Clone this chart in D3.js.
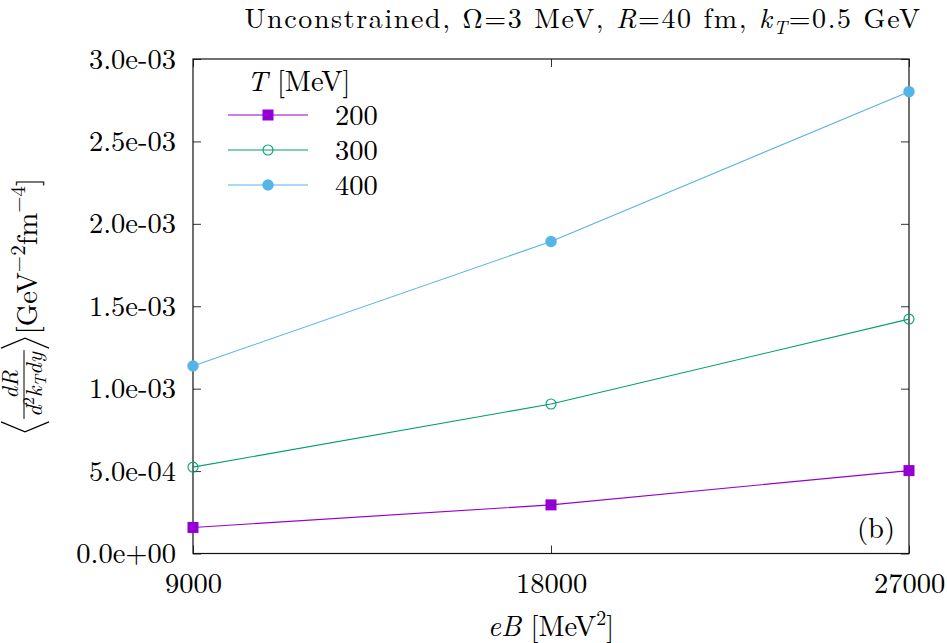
<!DOCTYPE html>
<html><head><meta charset="utf-8">
<script src="https://cdn.jsdelivr.net/npm/d3@7"></script>
<style>
html,body{margin:0;padding:0;background:#fff;}
text{font-family:"Latin Modern Roman","CMU Serif","Liberation Serif",serif;fill:#000;}
</style></head>
<body>
<svg id="chart" width="947" height="643"></svg>
<script>
// ---- data ----
const eB = [9000, 18000, 27000];
const temps = ["200", "300", "400"];
const rate200 = [1.58e-4, 2.95e-4, 5.03e-4];
const rate300 = [5.24e-4, 9.07e-4, 1.422e-3];
const rate400 = [1.138e-3, 1.893e-3, 2.802e-3];
const xTicks = [9000, 18000, 27000];
const xTickLabels = ["9000", "18000", "27000"];
const yTicks = [0, 5e-4, 1e-3, 1.5e-3, 2e-3, 2.5e-3, 3e-3];
const yTickLabels = ["0.0e+00", "5.0e-04", "1.0e-03", "1.5e-03", "2.0e-03", "2.5e-03", "3.0e-03"];
const colors = ["#9400d3", "#009e73", "#56b4e9"];
const markers = ["square", "openCircle", "circle"];

const series = temps.map((t, i) => ({
  name: t, color: colors[i], marker: markers[i],
  values: [rate200, rate300, rate400][i].map((v, j) => ({x: eB[j], y: v}))
}));

const FS = 28.5;
const svg = d3.select("#chart");
const L = 193, R = 909, T = 59, B = 553.5;
const x = d3.scaleLinear().domain([9000, 27000]).range([L, R]);
const y = d3.scaleLinear().domain([0, 3e-3]).range([B, T]);

// ticks (mirror, inward)
const tk = 8;
const axL = d3.axisLeft(y).tickValues(yTicks).tickSize(-tk).tickFormat((d, i) => yTickLabels[i]).tickPadding(17);
const gL = svg.append("g").attr("transform", `translate(${L},0)`).call(axL);
gL.select(".domain").remove();
gL.selectAll("text").style("font-size", FS + "px").attr("font-family", null);
gL.selectAll("line").attr("stroke", "#333");

const axR = d3.axisRight(y).tickValues(yTicks).tickSize(-tk).tickFormat("");
const gR = svg.append("g").attr("transform", `translate(${R},0)`).call(axR);
gR.select(".domain").remove();
gR.selectAll("line").attr("stroke", "#333");

const axB = d3.axisBottom(x).tickValues(xTicks).tickSize(-tk).tickFormat((d, i) => xTickLabels[i]).tickPadding(19);
const gB = svg.append("g").attr("transform", `translate(0,${B})`).call(axB);
gB.select(".domain").remove();
gB.selectAll("text").style("font-size", FS + "px").attr("font-family", null);
gB.selectAll("line").attr("stroke", "#333");

const axT = d3.axisTop(x).tickValues(xTicks).tickSize(-tk).tickFormat("");
const gT = svg.append("g").attr("transform", `translate(0,${T})`).call(axT);
gT.select(".domain").remove();
gT.selectAll("line").attr("stroke", "#333");

// border
svg.append("rect").attr("x", L).attr("y", T).attr("width", R - L).attr("height", B - T)
  .attr("fill", "none").attr("stroke", "#111").attr("stroke-width", 1.2);

// lines & markers
const line = d3.line().x(d => x(d.x)).y(d => y(d.y));
function drawMarker(g, type, color, cx, cy) {
  if (type === "square") {
    g.append("rect").attr("x", cx - 5.5).attr("y", cy - 5.5).attr("width", 11).attr("height", 11).attr("fill", color);
  } else if (type === "openCircle") {
    g.append("circle").attr("cx", cx).attr("cy", cy).attr("r", 5).attr("fill", "none").attr("stroke", color).attr("stroke-width", 1.1);
  } else {
    g.append("circle").attr("cx", cx).attr("cy", cy).attr("r", 5.7).attr("fill", color);
  }
}
series.forEach(s => {
  svg.append("path").datum(s.values).attr("d", line).attr("fill", "none")
    .attr("stroke", s.color).attr("stroke-width", 1.1);
  const g = svg.append("g");
  s.values.forEach(d => drawMarker(g, s.marker, s.color, x(d.x), y(d.y)));
});

// legend
const lg = svg.append("g");
const lt = lg.append("text").attr("x", 247).attr("y", 91).style("font-size", FS + "px");
lt.append("tspan").style("font-style", "italic").text("T");
lt.append("tspan").text(" [MeV]");
series.forEach((s, i) => {
  const yy = 115 + i * 35;
  lg.append("line").attr("x1", 228).attr("x2", 308).attr("y1", yy).attr("y2", yy)
    .attr("stroke", s.color).attr("stroke-width", 1.1);
  drawMarker(lg, s.marker, s.color, 268, yy);
  lg.append("text").attr("x", 335).attr("y", yy + 9.5).style("font-size", FS + "px").text(s.name);
});

// (b)
svg.append("text").attr("x", 895).attr("y", 538).attr("text-anchor", "end").style("font-size", FS + "px").text("(b)");

// title
const tt = svg.append("text").attr("x", 583).attr("y", 28).attr("text-anchor", "middle")
  .style("font-size", "28px").style("letter-spacing", "1.6px");
tt.append("tspan").text("Unconstrained, Ω=3 MeV, ");
tt.append("tspan").style("font-style", "italic").text("R");
tt.append("tspan").text("=40 fm, ");
tt.append("tspan").style("font-style", "italic").text("k");
tt.append("tspan").attr("dy", 6).style("font-size", "19px").style("font-style", "italic").text("T");
tt.append("tspan").attr("dy", -6).text("=0.5 GeV");

// x label
const xl = svg.append("text").attr("x", 551).attr("y", 636).attr("text-anchor", "middle").style("font-size", FS + "px");
xl.append("tspan").style("font-style", "italic").text("eB");
xl.append("tspan").text(" [MeV");
xl.append("tspan").attr("dy", -11).style("font-size", "20px").text("2");
xl.append("tspan").attr("dy", 11).text("]");

// y label (rotated, built sequentially)
const yg = svg.append("g");
const inner = yg.append("g");
let cur = 0;
inner.append("path").attr("d", `M${cur + 10},-36 L${cur},-12 L${cur + 10},12`).attr("fill", "none").attr("stroke", "#000").attr("stroke-width", 1.2);
cur += 13;
const num = inner.append("text").attr("y", -19).style("font-size", "23px").style("font-style", "italic").text("dR");
const den = inner.append("text").attr("y", 5).style("font-size", "23px");
den.append("tspan").style("font-style", "italic").text("d");
den.append("tspan").attr("dy", -8).style("font-size", "16px").text("2");
den.append("tspan").attr("dy", 8).style("font-style", "italic").text("k");
den.append("tspan").attr("dy", 4).style("font-size", "16px").style("font-style", "italic").text("T");
den.append("tspan").attr("dy", -4).style("font-style", "italic").text("dy");
const nw = num.node().getComputedTextLength();
const dw = den.node().getComputedTextLength();
const fw = Math.max(nw, dw) + 4;
num.attr("x", cur + (fw - nw) / 2);
den.attr("x", cur + (fw - dw) / 2);
inner.append("line").attr("x1", cur).attr("x2", cur + fw).attr("y1", -13).attr("y2", -13).attr("stroke", "#000").attr("stroke-width", 1);
cur += fw + 2;
inner.append("path").attr("d", `M${cur},-36 L${cur + 10},-12 L${cur},12`).attr("fill", "none").attr("stroke", "#000").attr("stroke-width", 1.2);
cur += 14;
const un = inner.append("text").attr("x", cur).attr("y", 0).style("font-size", FS + "px");
un.append("tspan").text("[GeV");
un.append("tspan").attr("dy", -12).style("font-size", "21px").text("−2");
un.append("tspan").attr("dy", 12).text("fm");
un.append("tspan").attr("dy", -12).style("font-size", "21px").text("−4");
un.append("tspan").attr("dy", 12).text("]");
cur += un.node().getComputedTextLength();
inner.attr("transform", `translate(${-cur / 2},0)`);
yg.attr("transform", "translate(37,305) rotate(-90)");
</script>
</body></html>
